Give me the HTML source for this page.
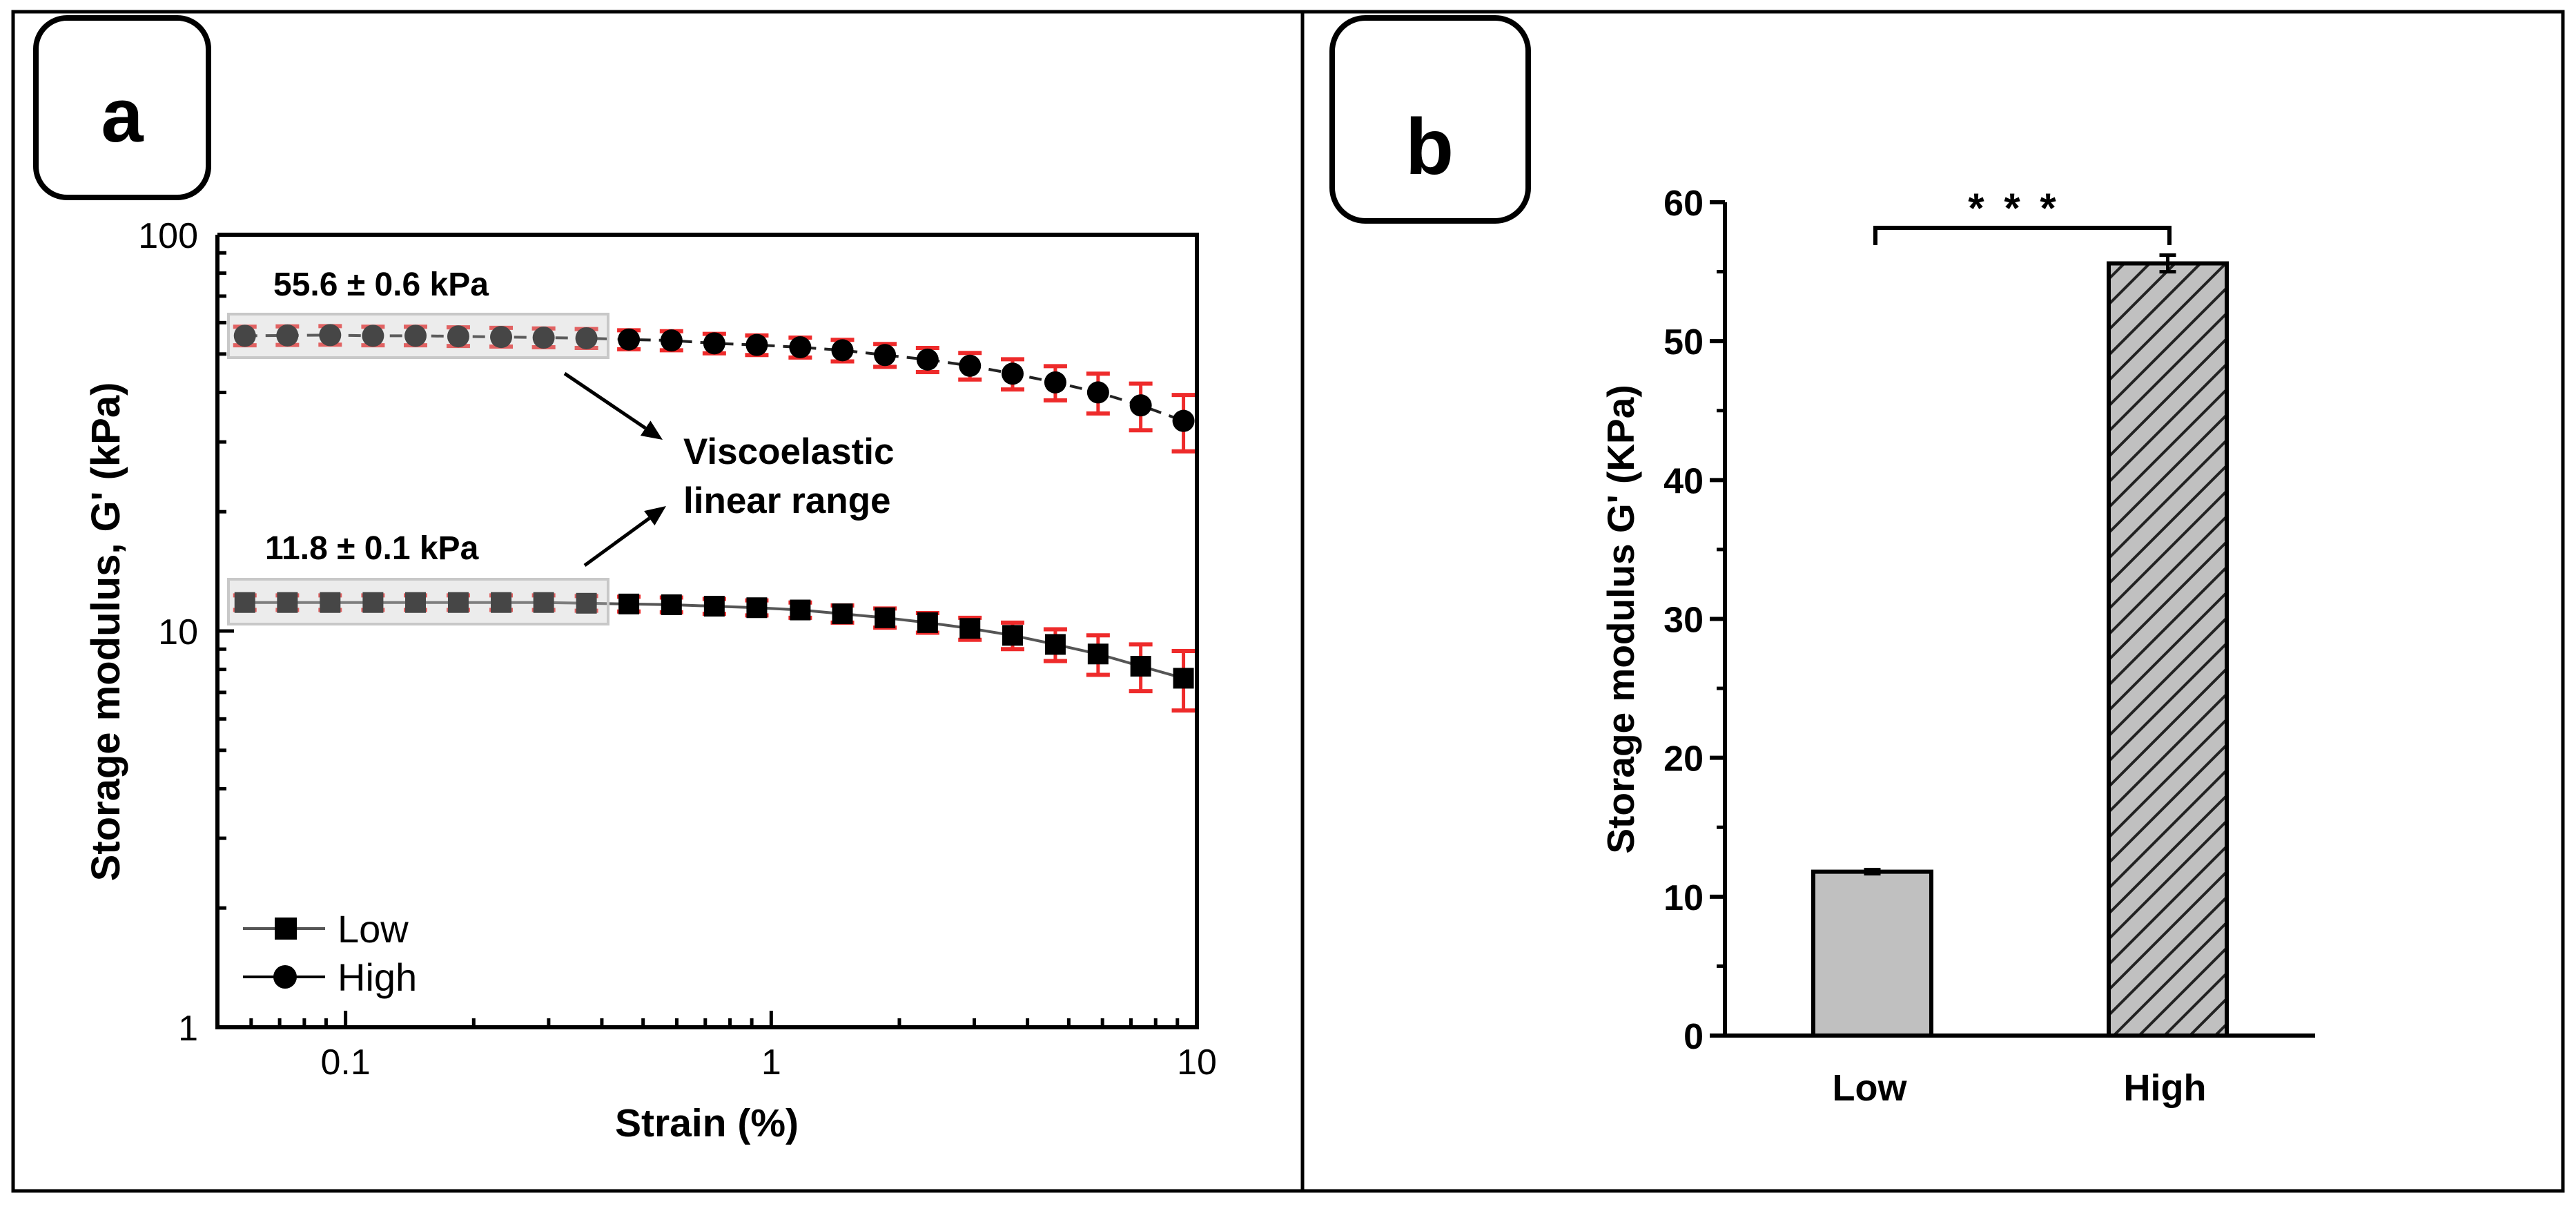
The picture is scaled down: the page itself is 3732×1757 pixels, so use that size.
<!DOCTYPE html>
<html>
<head>
<meta charset="utf-8">
<style>
  html,body{margin:0;padding:0;background:#fff;}
  svg{display:block;font-family:"Liberation Sans",Arial,sans-serif;}
</style>
</head>
<body>
<svg id="fig" width="3732" height="1757" viewBox="0 0 3732 1757" xmlns="http://www.w3.org/2000/svg">
  <rect x="0" y="0" width="3732" height="1757" fill="#fff"/>
  <rect x="19" y="17" width="3694" height="1708" fill="none" stroke="#000" stroke-width="5"/>
  <line x1="1887" y1="17" x2="1887" y2="1725" stroke="#000" stroke-width="5"/>

  <g>
    <rect x="52" y="26" width="250" height="260" rx="45" fill="#fff" stroke="#000" stroke-width="8"/>
    <text x="177" y="205" font-size="110" font-weight="bold" text-anchor="middle">a</text>
  </g>
  <g>
    <rect x="1930" y="26" width="284" height="294" rx="48" fill="#fff" stroke="#000" stroke-width="8"/>
    <text x="2071" y="252" font-size="115" font-weight="bold" text-anchor="middle">b</text>
  </g>

  <g id="chartA"></g>
  <g id="chartB"></g>
</svg>

<script>
// ---------- Panel a data ----------
const strain = [0.058,0.073,0.092,0.116,0.146,0.184,0.232,0.292,0.368,0.463,0.583,0.735,0.925,1.17,1.47,1.85,2.33,2.93,3.69,4.65,5.86,7.38,9.3];
const highG = [55.6,55.7,55.8,55.6,55.6,55.4,55.2,55.0,54.8,54.4,54.1,53.2,52.7,52.0,51.1,49.7,48.4,46.7,44.6,42.4,40.0,37.1,33.9];
const highErr = [3,3,3,3,3,3,3,3,3,3,3,3,3,3,3.2,3.3,3.4,3.6,3.9,4.2,4.6,5.0,5.5];
const lowG = [11.8,11.8,11.8,11.8,11.8,11.8,11.8,11.8,11.75,11.7,11.65,11.55,11.45,11.3,11.05,10.8,10.5,10.15,9.75,9.25,8.75,8.15,7.6];
const lowErr = [0.5,0.5,0.5,0.5,0.5,0.5,0.5,0.5,0.5,0.5,0.5,0.5,0.5,0.5,0.55,0.6,0.6,0.65,0.75,0.85,1.0,1.1,1.3];
const xTickVals = [0.1,1,10];
const xTickLabels = ["0.1","1","10"];
const yTickVals = [1,10,100];
const yTickLabels = ["1","10","100"];
// ---------- Panel b data ----------
const barCats = ["Low","High"];
const barVals = [11.8,55.6];
const barErrs = [0.15,0.6];
const bTickVals = [0,10,20,30,40,50,60];

const NS = "http://www.w3.org/2000/svg";
function mk(parent, tag, attrs){
  const e = document.createElementNS(NS, tag);
  for (const k in attrs) e.setAttribute(k, attrs[k]);
  parent.appendChild(e);
  return e;
}

// ===== Panel a =====
const A = document.getElementById("chartA");
const aL=315, aR=1734, aT=340, aB=1488;
const xMinL=Math.log10(0.05), xMaxL=1;
function xA(v){ return aL + (Math.log10(v)-xMinL)/(xMaxL-xMinL)*(aR-aL); }
function yA(v){ return aB - Math.log10(v)/2*(aB-aT); }

for (let d=-2; d<=1; d++){
  for (let m=2; m<=9; m++){
    const v = m*Math.pow(10,d);
    if (v>0.05 && v<10){
      const t = mk(A,"line",{x1:xA(v),y1:aB,x2:xA(v),y2:aB-13,stroke:"#000","stroke-width":5});
      
      
    }
    const vy = m*Math.pow(10,d);
    if (vy>1 && vy<100){
      const t2 = mk(A,"line",{x1:aL,y1:yA(vy),x2:aL+13,y2:yA(vy),stroke:"#000","stroke-width":5});
      
      
    }
  }
}
xTickVals.forEach((v,i)=>{
  const t = mk(A,"line",{x1:xA(v),y1:aB,x2:xA(v),y2:aB-24,stroke:"#000","stroke-width":5});
  
  
  const l = mk(A,"text",{x:xA(v),y:1556,"font-size":52,"text-anchor":"middle"});
  l.textContent = xTickLabels[i];
  
  
});
yTickVals.forEach((v,i)=>{
  const t = mk(A,"line",{x1:aL,y1:yA(v),x2:aL+24,y2:yA(v),stroke:"#000","stroke-width":5});
  
  
  const l = mk(A,"text",{x:287,y:yA(v)+19,"font-size":52,"text-anchor":"end"});
  l.textContent = yTickLabels[i];
  
  
});

const lowPts = strain.map((s,i)=>xA(s)+","+yA(lowG[i])).join(" ");
const lowLine = mk(A,"polyline",{points:lowPts,fill:"none",stroke:"#555","stroke-width":4});


const highPts = strain.map((s,i)=>xA(s)+","+yA(highG[i])).join(" ");
const highLine = mk(A,"polyline",{points:highPts,fill:"none",stroke:"#222","stroke-width":4,"stroke-dasharray":"18 12"});



function errBar(x, v, e, name){
  const y1=yA(v+e), y2=yA(v-e);
  const g = mk(A,"g",{});
  
  
  mk(g,"line",{x1:x,y1:y1,x2:x,y2:y2,stroke:"#ee2b2b","stroke-width":5});
  mk(g,"line",{x1:x-17,y1:y1,x2:x+17,y2:y1,stroke:"#ee2b2b","stroke-width":6});
  mk(g,"line",{x1:x-17,y1:y2,x2:x+17,y2:y2,stroke:"#ee2b2b","stroke-width":6});
}
strain.forEach((s,i)=>{
  errBar(xA(s), highG[i], highErr[i], 'high-error-bar');
  const c = mk(A,"circle",{cx:xA(s),cy:yA(highG[i]),r:16,fill:"#000"});
  
  
  errBar(xA(s), lowG[i], lowErr[i], 'low-error-bar');
  const r = mk(A,"rect",{x:xA(s)-15,y:yA(lowG[i])-15,width:30,height:30,fill:"#000"});
  
  
});

const hb1 = mk(A,"rect",{x:331,y:455,width:550,height:63,fill:"rgba(200,200,200,0.35)",stroke:"#c8c8c8","stroke-width":4});


const hb2 = mk(A,"rect",{x:331,y:839,width:550,height:65,fill:"rgba(200,200,200,0.35)",stroke:"#c8c8c8","stroke-width":4});



const axA = mk(A,"polyline",{points:`${aL},${aT} ${aL},${aB} ${aR},${aB} ${aR},${aT} ${aL},${aT}`,fill:"none",stroke:"#000","stroke-width":6});



const an1 = mk(A,"text",{x:396,y:428,"font-size":48,"font-weight":"bold"});
an1.textContent = "55.6 ± 0.6 kPa";


const an2 = mk(A,"text",{x:384,y:810,"font-size":48,"font-weight":"bold"});
an2.textContent = "11.8 ± 0.1 kPa";


const v1 = mk(A,"text",{x:990,y:672,"font-size":53,"font-weight":"bold"});
v1.textContent = "Viscoelastic";


const v2 = mk(A,"text",{x:990,y:743,"font-size":53,"font-weight":"bold"});
v2.textContent = "linear range";



function arrow(x1,y1,x2,y2,name){
  const g = mk(A,"g",{});
  
  
  const ang = Math.atan2(y2-y1,x2-x1), L=30, W=13;
  const bx = x2-L*Math.cos(ang), by = y2-L*Math.sin(ang);
  mk(g,"line",{x1:x1,y1:y1,x2:bx,y2:by,stroke:"#000","stroke-width":5});
  const p1x = bx + W*Math.sin(ang), p1y = by - W*Math.cos(ang);
  const p2x = bx - W*Math.sin(ang), p2y = by + W*Math.cos(ang);
  mk(g,"polygon",{points:`${x2},${y2} ${p1x},${p1y} ${p2x},${p2y}`,fill:"#000"});
}
arrow(818,541,960,637,'arrow-to-high');
arrow(847,819,965,733,'arrow-to-low');

const lg = mk(A,"g",{});


mk(lg,"line",{x1:352,y1:1345,x2:471,y2:1345,stroke:"#555","stroke-width":4});
mk(lg,"rect",{x:398,y:1329,width:32,height:32,fill:"#000"});
const lt1 = mk(lg,"text",{x:489,y:1365,"font-size":56});
lt1.textContent = "Low";


mk(lg,"line",{x1:352,y1:1415,x2:471,y2:1415,stroke:"#000","stroke-width":4});
mk(lg,"circle",{cx:413,cy:1415,r:17,fill:"#000"});
const lt2 = mk(lg,"text",{x:489,y:1435,"font-size":56});
lt2.textContent = "High";



const xt = mk(A,"text",{x:1024,y:1646,"font-size":57,"font-weight":"bold","text-anchor":"middle"});
xt.textContent = "Strain (%)";


const yt = mk(A,"text",{x:0,y:0,"font-size":58,"font-weight":"bold","text-anchor":"middle",transform:"translate(173,915) rotate(-90)"});
yt.textContent = "Storage modulus, G' (kPa)";



// ===== Panel b =====
const B = document.getElementById("chartB");
const bL=2499, bR=3354, bTop=293, bBot=1500;
function yB(v){ return bBot - v/60*(bBot-bTop); }
const barX = [2627,3055], barW = 171;

const defs = mk(B,"defs",{});
const pat = mk(defs,"pattern",{id:"hatch",patternUnits:"userSpaceOnUse",width:26,height:26,patternTransform:"rotate(45)"});
mk(pat,"rect",{x:0,y:0,width:26,height:26,fill:"#c0c0c0"});
mk(pat,"line",{x1:0,y1:0,x2:0,y2:26,stroke:"#222","stroke-width":8});

barCats.forEach((c,i)=>{
  const top = yB(barVals[i]);
  const r = mk(B,"rect",{x:barX[i],y:top,width:barW,height:bBot-top,fill:i===0?"#c0c0c0":"url(#hatch)",stroke:"#000","stroke-width":6});
  
  
  const cx = barX[i]+barW/2;
  const eg = mk(B,"g",{});
  
  
  const e1=yB(barVals[i]+barErrs[i]), e2=yB(barVals[i]-barErrs[i]);
  mk(eg,"line",{x1:cx,y1:e1,x2:cx,y2:e2,stroke:"#000","stroke-width":5});
  mk(eg,"line",{x1:cx-12,y1:e1,x2:cx+12,y2:e1,stroke:"#000","stroke-width":5});
  mk(eg,"line",{x1:cx-12,y1:e2,x2:cx+12,y2:e2,stroke:"#000","stroke-width":5});
  const lab = mk(B,"text",{x:cx-4,y:1594,"font-size":54,"font-weight":"bold","text-anchor":"middle"});
  lab.textContent = c;
  
  
});

bTickVals.forEach(v=>{
  const t = mk(B,"line",{x1:bL-22,y1:yB(v),x2:bL,y2:yB(v),stroke:"#000","stroke-width":6});
  
  
  if (v<60){
    const m = mk(B,"line",{x1:bL-12,y1:yB(v+5),x2:bL,y2:yB(v+5),stroke:"#000","stroke-width":5});
    
    
  }
  const l = mk(B,"text",{x:2468,y:yB(v)+19,"font-size":52,"font-weight":"bold","text-anchor":"end"});
  l.textContent = String(v);
  
  
});
const axB = mk(B,"polyline",{points:`${bL},${bTop} ${bL},${bBot} ${bR},${bBot}`,fill:"none",stroke:"#000","stroke-width":6});



const br = mk(B,"polyline",{points:"2717,355 2717,330 3143,330 3143,355",fill:"none",stroke:"#000","stroke-width":6});


const st = mk(B,"text",{x:2918,y:322,"font-size":60,"font-weight":"bold","text-anchor":"middle","letter-spacing":"6"});
st.textContent = "* * *";



const ytb = mk(B,"text",{x:0,y:0,"font-size":55,"font-weight":"bold","text-anchor":"middle",transform:"translate(2367,897) rotate(-90)"});
ytb.textContent = "Storage modulus G' (KPa)";


</script>
</body>
</html>
